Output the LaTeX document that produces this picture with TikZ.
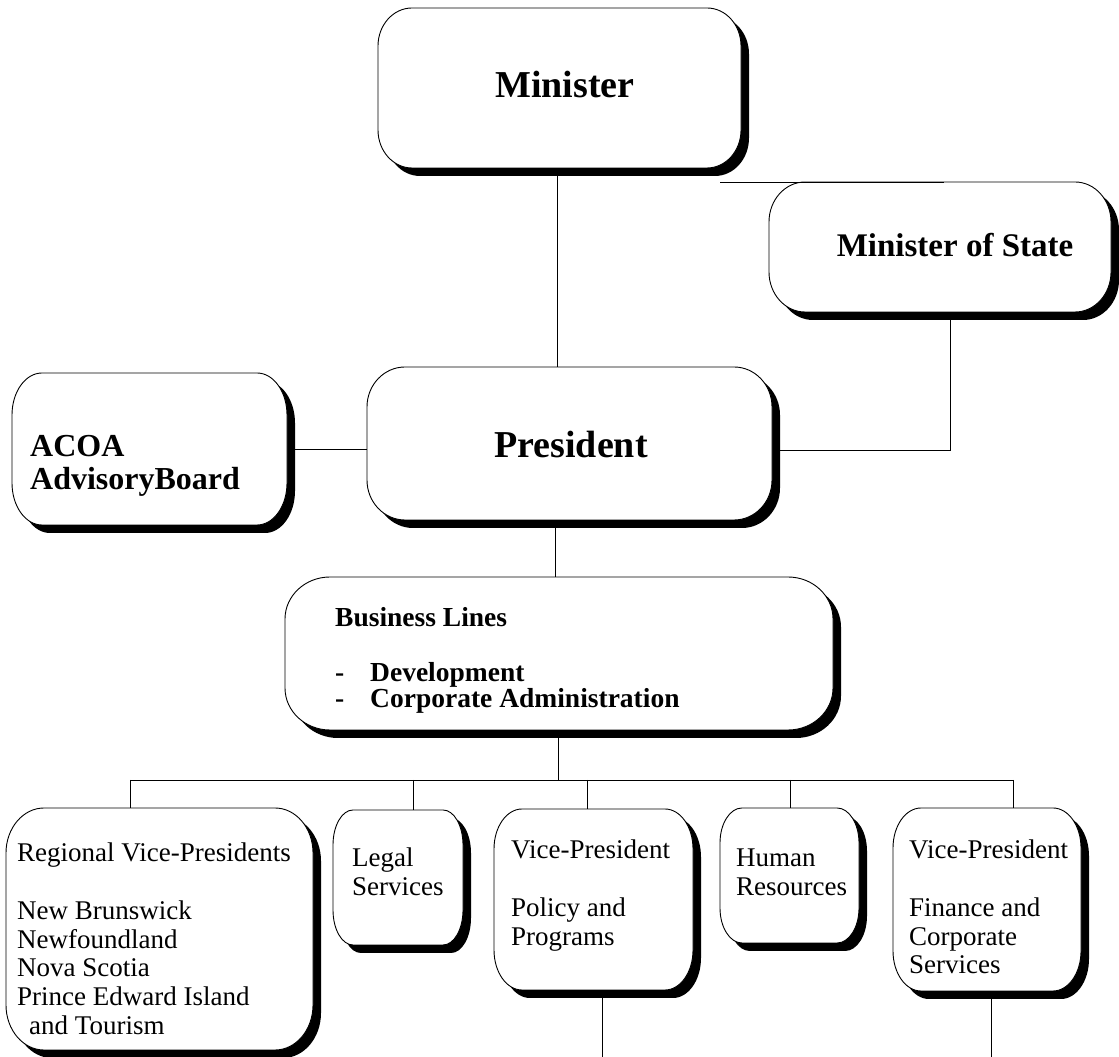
\documentclass[tikz,border=0pt]{standalone}
\usepackage{fontspec}
\setmainfont{Liberation Serif}
\newcommand\fsz[2]{\fontsize{#1pt}{#2pt}\selectfont}
% rounded box outline with elliptical corners: x1, Ytop, x2, Ybot, rx, ry (y up)
\newcommand\rrpath[6]{({#1+#5},{#2}) -- ({#3-#5},{#2}) arc[start angle=90,end angle=0,x radius=#5pt,y radius=#6pt] -- ({#3},{#4+#6}) arc[start angle=0,end angle=-90,x radius=#5pt,y radius=#6pt] -- ({#1+#5},{#4}) arc[start angle=270,end angle=180,x radius=#5pt,y radius=#6pt] -- ({#1},{#2-#6}) arc[start angle=180,end angle=90,x radius=#5pt,y radius=#6pt] -- cycle}
% name, x1, ytop(px, from top), x2, ybot(px, from top), rx, ry
\newcommand\rbox[7]{%
  \fill[black,shift={(8,-8)}] \rrpath{#2}{1057-#3}{#4}{1057-#5}{#6}{#7};
  \draw[boxline,fill=white] \rrpath{#2}{1057-#3}{#4}{1057-#5}{#6}{#7};
  \node[anchorbox,minimum width={(#4-#2+8)*1pt},minimum height={(#5-#3+8)*1pt}] (#1) at ({(#2+#4+8)/2},{1057-(#3+#5+8)/2}) {};
}
\tikzset{
  boxline/.style={line width=0.9pt},
  conn/.style={line width=0.8pt},
  anchorbox/.style={draw=none,inner sep=0pt,outer sep=0pt},
  txt/.style={inner sep=0pt,anchor=base west},
  bigbold/.style={txt,anchor=base,font=\bfseries\fsz{38}{40}},
  plain/.style={txt,font=\fsz{27}{28.7}},
  blbold/.style={txt,font=\bfseries\fsz{27.5}{29}},
}
\begin{document}
\begin{tikzpicture}[x=1pt,y=1pt]
\useasboundingbox (0,0) rectangle (1119,1057);

% boxes
\rbox{min}{378}{8}{741}{168}{34}{38}
\rbox{mos}{769}{182}{1111}{312}{36}{40}
\rbox{acoa}{12}{373}{287}{525}{30}{42}
\rbox{pres}{367}{367}{772}{520}{38}{40}
\rbox{bl}{285}{577}{833}{730}{45}{42}
\rbox{reg}{6}{808}{313}{1050}{38}{45}
\rbox{leg}{333}{810}{463}{945}{20}{35}
\rbox{pol}{494}{809}{693}{990}{28}{40}
\rbox{hr}{720}{808}{859}{943}{22}{35}
\rbox{fin}{893}{808}{1081}{991}{28}{40}

% texts
\node[bigbold] (tmin) at (565,1057-98) {Minister};
\node[txt,anchor=base,font=\bfseries\fsz{33}{35}] (tmos) at (955,1057-257) {Minister of State};
\node[bigbold] (tpres) at (571,1057-458) {President};
\node[txt,font=\bfseries\fsz{32}{33}] (tacoa) at (30,1057-457)
  {\begin{tabular}[t]{@{}l@{}}ACOA\\AdvisoryBoard\end{tabular}};
\node[blbold] (tbl) at (335,1057-627) {Business Lines};
\node[blbold] (tda) at (335,1057-682) {-};
\node[blbold] (tdev) at (370,1057-682) {Development};
\node[blbold] (tdb) at (335,1057-708) {-};
\node[blbold] (tcorp) at (370,1057-708) {Corporate Administration};
\node[plain] (treg) at (17,1057-862)
  {\begin{tabular}[t]{@{}l@{}}Regional Vice-Presidents\\ \\New Brunswick\\Newfoundland\\Nova Scotia\\Prince Edward Island\\\hspace{12pt}and Tourism\end{tabular}};
\node[plain] (tleg) at (352,1057-867)
  {\begin{tabular}[t]{@{}l@{}}Legal\\Services\end{tabular}};
\node[plain] (tpol) at (511,1057-859)
  {\begin{tabular}[t]{@{}l@{}}Vice-President\\ \\Policy and\\Programs\end{tabular}};
\node[plain] (thr) at (736,1057-867)
  {\begin{tabular}[t]{@{}l@{}}Human\\Resources\end{tabular}};
\node[plain] (tfin) at (909,1057-859)
  {\begin{tabular}[t]{@{}l@{}}Vice-President\\ \\Finance and\\Corporate\\Services\end{tabular}};

% helper coordinates
\coordinate (colA) at (557,0);
\coordinate (mlink) at (720,1057-182);
\coordinate (colB) at (950,0);
\coordinate (rowA) at (0,1057-449);
\coordinate (rowB) at (0,1057-450);
\coordinate (colC) at (555,0);
\coordinate (colD) at (558,0);
\coordinate (dA) at (130,1057-780);
\coordinate (dB) at (413,1057-780);
\coordinate (dC) at (587,1057-780);
\coordinate (dD) at (790,1057-780);
\coordinate (dE) at (1013,1057-780);
\coordinate (tailA) at (602,0);
\coordinate (tailB) at (991,0);

% connectors
\draw[conn] (min.south -| colA) -- (pres.north -| colA);
\draw[conn] (mlink) -- (mlink -| mos.north);
\draw[conn] (mos.south -| colB) -- (colB |- rowB) -- (pres.east |- rowB);
\draw[conn] (acoa.east |- rowA) -- (pres.west |- rowA);
\draw[conn] (pres.south -| colC) -- (bl.north -| colC);
\draw[conn] (bl.south -| colD) -- (colD |- dA);
\draw[conn] (dA) -- (dE);
\draw[conn] (dA) -- (dA |- reg.north);
\draw[conn] (dB) -- (dB |- leg.north);
\draw[conn] (dC) -- (dC |- pol.north);
\draw[conn] (dD) -- (dD |- hr.north);
\draw[conn] (dE) -- (dE |- fin.north);
\draw[conn] (pol.south -| tailA) -- (tailA);
\draw[conn] (fin.south -| tailB) -- (tailB);
\end{tikzpicture}
\end{document}
